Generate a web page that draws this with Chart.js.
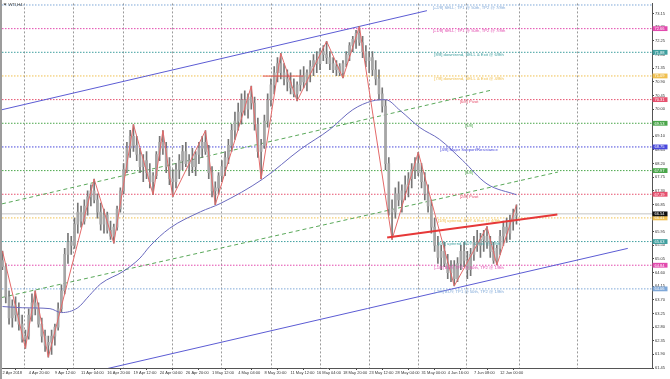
<!DOCTYPE html>
<html><head><meta charset="utf-8">
<script src="https://cdn.jsdelivr.net/npm/chart.js@4.4.1/dist/chart.umd.min.js"></script>
<style>
html,body{margin:0;padding:0;background:#fff;overflow:hidden;}
#wrap{position:absolute;left:0;top:0;width:668px;height:379px;border-left:2px solid #9c9c9c;}
canvas{display:block;}
</style></head><body>
<div id="wrap"><canvas id="c" width="668" height="379"></canvas></div>
<script>
// ---- data (H4 bars, one entry per two H4 bars) ----
const opens  = [65.0,64.8,63.8,63.1,63.5,63.2,62.9,62.4,62.5,63.2,63.6,63.4,62.9,62.5,62.2,62.3,62.5,62.8,63.4,64.0,65.2,65.6,65.5,66.2,66.6,66.3,66.8,67.1,67.3,67.0,66.6,66.2,66.5,66.0,65.8,66.1,66.7,67.3,68.0,68.7,69.1,68.8,68.5,68.1,68.3,67.9,67.6,67.8,68.5,68.9,68.7,68.1,67.7,67.6,68.0,68.3,68.6,68.2,68.3,68.1,68.5,68.7,68.9,68.6,67.9,67.3,67.4,67.8,68.1,68.4,68.8,69.3,69.6,69.9,70.3,70.0,70.4,70.2,69.5,68.6,68.8,69.6,70.3,70.8,71.2,71.5,71.2,71.0,70.9,70.7,70.5,70.8,71.1,70.9,71.2,71.4,71.6,71.5,71.9,71.8,71.7,71.5,71.3,71.4,71.2,71.5,71.8,72.1,72.3,72.5,72.2,71.9,71.6,71.7,71.3,71.0,70.5,70.1,68.2,66.7,66.6,67.2,67.0,67.3,67.5,67.7,68.0,68.2,67.9,67.6,67.2,66.8,66.1,65.5,65.1,65.3,64.9,64.6,64.8,64.4,64.9,65.3,65.0,64.7,65.2,65.6,65.5,65.7,65.8,65.6,65.3,65.0,65.4,65.8,66.1,65.9,66.3,66.5];
const highs  = [65.31,64.9,64.0,63.7,63.8,63.6,63.2,62.7,63.4,63.9,64.00,63.6,63.1,62.7,62.5,62.7,62.9,63.6,64.2,65.4,65.9,65.8,66.4,66.9,66.8,67.0,67.3,67.5,67.69,67.2,66.9,66.7,66.6,66.3,66.2,66.8,67.4,68.2,68.9,69.3,69.49,69.1,68.7,68.5,68.6,68.2,67.9,68.6,69.1,69.29,68.9,68.4,68.0,68.2,68.5,68.8,68.9,68.5,68.7,68.6,68.9,69.1,69.29,68.8,68.1,67.6,67.9,68.3,68.6,69.0,69.5,69.9,70.2,70.5,70.6,70.5,70.76,70.4,69.7,69.0,69.8,70.5,71.0,71.4,71.7,71.84,71.5,71.3,71.2,71.0,70.9,71.3,71.4,71.3,71.6,71.8,71.9,72.0,72.1,72.24,71.9,71.7,71.6,71.5,71.6,71.9,72.2,72.4,72.6,72.73,72.4,72.1,71.9,71.9,71.6,71.3,70.7,70.3,68.4,67.0,67.4,67.6,67.5,67.8,67.9,68.2,68.4,68.57,68.2,67.9,67.5,67.0,66.4,65.8,65.5,65.6,65.2,65.0,65.0,65.1,65.5,65.6,65.3,65.4,65.8,66.0,65.9,66.0,66.12,65.8,65.6,65.5,66.0,66.3,66.4,66.5,66.7,66.84];
const lows   = [64.7,63.6,62.9,62.8,63.0,62.7,62.3,62.10,62.4,63.0,63.2,62.8,62.3,62.0,61.81,61.9,62.2,62.7,63.3,63.9,64.9,65.2,65.4,65.9,66.1,66.2,66.5,66.8,66.9,66.4,66.0,65.9,65.9,65.7,65.57,66.0,66.6,67.2,67.9,68.4,68.6,68.3,67.9,67.6,67.7,67.4,67.17,67.7,68.3,68.5,67.9,67.5,67.10,67.4,67.7,68.0,68.1,67.8,67.9,67.8,68.2,68.4,68.5,67.7,67.1,66.84,67.2,67.6,67.8,68.2,68.6,69.0,69.3,69.5,69.8,69.7,70.0,69.3,68.4,67.69,68.7,69.4,70.1,70.5,70.9,71.0,70.8,70.6,70.5,70.4,70.27,70.6,70.7,70.6,70.9,71.1,71.2,71.3,71.6,71.5,71.3,71.2,71.1,71.1,71.03,71.4,71.6,71.9,72.0,72.1,71.7,71.4,71.2,71.1,70.8,70.3,69.9,68.0,66.5,65.70,66.4,66.8,66.6,67.0,67.1,67.4,67.7,67.8,67.4,67.0,66.6,65.9,65.3,64.9,64.7,64.8,64.4,64.3,64.16,64.3,64.7,64.8,64.4,64.5,65.0,65.3,65.1,65.3,65.4,65.1,64.9,64.85,65.2,65.5,65.6,65.7,66.0,66.2];
const closes = [64.8,63.8,63.1,63.5,63.2,62.9,62.4,62.5,63.2,63.6,63.4,62.9,62.5,62.2,62.3,62.5,62.8,63.4,64.0,65.2,65.6,65.5,66.2,66.6,66.3,66.8,67.1,67.3,67.0,66.6,66.2,66.5,66.0,65.8,66.1,66.7,67.3,68.0,68.7,69.1,68.8,68.5,68.1,68.3,67.9,67.6,67.8,68.5,68.9,68.7,68.1,67.7,67.6,68.0,68.3,68.6,68.2,68.3,68.1,68.5,68.7,68.9,68.6,67.9,67.3,67.4,67.8,68.1,68.4,68.8,69.3,69.6,69.9,70.3,70.0,70.4,70.2,69.5,68.6,68.8,69.6,70.3,70.8,71.2,71.5,71.2,71.0,70.9,70.7,70.5,70.8,71.1,70.9,71.2,71.4,71.6,71.5,71.9,71.8,71.7,71.5,71.3,71.4,71.2,71.5,71.8,72.1,72.3,72.5,72.2,71.9,71.6,71.7,71.3,71.0,70.5,70.1,68.2,66.7,66.6,67.2,67.0,67.3,67.5,67.7,68.0,68.2,67.9,67.6,67.2,66.8,66.1,65.5,65.1,65.3,64.9,64.6,64.8,64.4,64.9,65.3,65.0,64.7,65.2,65.6,65.5,65.7,65.8,65.6,65.3,65.0,65.4,65.8,66.1,65.9,66.3,66.5,66.54];
const barIndex = opens.map((_, k) => k * 2);   // H4 bar number of each entry

const zigIdx   = [0,14,20,28,56,68,80,92,98,104,124,130,152,158,170,180,198,208,218,238,254,276,296,302,314];
const zigPrice = [65.31,62.10,64.00,61.81,67.69,65.57,69.49,67.17,69.29,67.10,69.29,66.84,70.76,67.69,71.84,70.27,72.24,71.03,72.73,65.70,68.57,64.16,66.12,64.85,66.84];

const maIdx = [0,12,29,36,46,53,60,74,84,90,102,121,133,159,182,200,214,226,234,243,255,267,281,296,314];
const maVal = [63.48,63.44,63.41,63.28,63.44,63.84,64.23,64.65,65.08,65.47,66.06,66.61,66.88,67.69,68.67,69.33,69.98,70.27,70.31,69.95,69.39,69.00,68.31,67.53,67.17];

const levelValues = [73.4375,72.65625,71.875,71.09375,70.3125,69.53125,68.75,67.96875,67.1875,66.40625,65.625,64.84375,64.0625];
const levelNames = ['[+2/8] SELL; TP1 @ 50th, TP2 @ 7/8th','[+1/8] SELL; TP1 @ 50th, TP2 @ 7/8th','[8/8] downtrend, SELL & Exit @ 6/8th','[7/8] downtrend, SELL & Exit @ 4/8th','[6/8] Pivot','[5/8]','[4/8] Major Support/Resistance','[3/8]','[2/8] Pivot','[1/8] uptrend, BUY & Exit @ 4/8th','[0/8] uptrend, BUY & Exit @ 2/8th','[-1/8] BUY; TP1 @ 50th, TP2 @ 1/8th','[-2/8] BUY; TP1 @ 50th, TP2 @ 1/8th'];
const currentPrice = 66.54;

// trend / channel lines: [startBar, startPrice, endBar, endPrice]
const upperChannel = [-0.3, 69.98, 259.3, 73.25];
const lowerChannel = [64, 61.43, 382, 65.40];
const upperGreen   = [-0.3, 66.87, 299, 70.63];
const lowerGreen   = [-0.3, 63.78, 339.3, 67.92];
const redTrend     = [235, 65.76, 339, 66.52];
const redFlat      = [159, 71.09, 184, 71.09];

const xTickBars = [0,16,32,48,64,80,96,112,128,144,160,176,192,208,224,240,256,272,288,304];
const xLabels = ['2 Apr 2018','4 Apr 20:00','9 Apr 12:00','11 Apr 04:00','16 Apr 20:00','19 Apr 12:00','24 Apr 04:00','26 Apr 20:00','1 May 12:00','4 May 04:00','8 May 20:00','11 May 12:00','16 May 04:00','18 May 20:00','23 May 12:00','28 May 04:00','31 May 00:00','4 Jun 16:00','7 Jun 08:00','12 Jun 00:00'];
const weekBars = [28.5,58.5,88.8,118.8,149.3,179.3,209.2,239.2,268.5,298.4,333.8];
const yTicks = [61.45,61.90,62.35,62.80,63.25,63.70,64.15,64.60,65.05,65.50,65.95,66.40,66.85,67.30,67.75,68.20,68.65,69.10,69.55,70.00,70.45,70.90,71.35,71.80,72.25,72.70,73.15];

// ---- styles ----
const X_MIN = -0.3, X_MAX = 396.8, Y_MIN = 61.45, Y_MAX = 73.49;
const FONT = '"Liberation Sans", Arial, sans-serif';
const levelColors = ['#7fa8d8','#e24aae','#3f9f9f','#f0c050','#e6506e','#4aa64a','#4848dc','#4aa64a','#e6506e','#f0c050','#3f9f9f','#e24aae','#7fa8d8'];
const LABEL_BAR = 285;

function seg(a){ return [{x:a[0], y:a[1]}, {x:a[2], y:a[3]}]; }
function lineDs(data, color, width, dash, order){
  return {type:'line', data, borderColor:color, borderWidth:width, borderDash:dash||[], pointRadius:0, fill:false, tension:0, order};
}

const datasets = [];
levelValues.forEach((v,i)=>{
  datasets.push(lineDs([{x:X_MIN,y:v},{x:X_MAX,y:v}], levelColors[i], 1, [1.5,1.5], 60));
});
datasets.push(lineDs([{x:X_MIN,y:currentPrice},{x:X_MAX,y:currentPrice}], '#c4c4c4', 1, [], 59));
datasets.push(lineDs(seg(upperGreen), '#5aa85a', 1, [4,3], 50));
datasets.push(lineDs(seg(lowerGreen), '#5aa85a', 1, [4,3], 50));
datasets.push(lineDs(seg(upperChannel), '#5c5cd4', 1, [], 45));
datasets.push(lineDs(seg(lowerChannel), '#5c5cd4', 1, [], 45));
datasets.push({type:'bar', data: barIndex.map((x,k)=>({x, y:[lows[k], highs[k]]})), backgroundColor:'#767676', barThickness:1, grouped:false, order:31});
datasets.push({type:'bar', data: barIndex.map((x,k)=>({x, y:[opens[k], closes[k]]})), backgroundColor:'#a6a6a6', barThickness:2, minBarLength:1, grouped:false, order:30});
datasets.push({type:'line', data: maIdx.map((x,k)=>({x, y:maVal[k]})), borderColor:'#6a6abf', borderWidth:1, pointRadius:0, fill:false, cubicInterpolationMode:'monotone', order:20});
datasets.push(lineDs(zigIdx.map((x,k)=>({x, y:zigPrice[k]})), '#e46a6a', 1, [], 10));
datasets.push(lineDs(seg(redFlat), '#e05050', 1, [], 9));
datasets.push(lineDs(seg(redTrend), '#e63838', 2, [], 5));

const overlay = {
  id:'overlay',
  afterDatasetsDraw(chart){
    const ctx = chart.ctx, xs = chart.scales.x, ys = chart.scales.y;
    ctx.save();
    ctx.font = '4.2px ' + FONT;
    ctx.textAlign = 'center';
    ctx.textBaseline = 'top';
    levelValues.forEach((v,i)=>{
      ctx.fillStyle = levelColors[i];
      ctx.fillText(levelNames[i], xs.getPixelForValue(LABEL_BAR), ys.getPixelForValue(v) + 0.4);
    });
    ctx.restore();
  },
  afterDraw(chart){
    const ctx = chart.ctx, ys = chart.scales.y, area = chart.chartArea;
    ctx.save();
    ctx.font = '4px ' + FONT;
    ctx.textBaseline = 'middle';
    ctx.textAlign = 'left';
    const box = (v, bg) => {
      const y = ys.getPixelForValue(v);
      ctx.fillStyle = bg;
      ctx.fillRect(area.right + 0.5, y - 2.4, 15, 4.8);
      ctx.fillStyle = '#fff';
      ctx.fillText(v.toFixed(2), area.right + 2.5, y + 0.2);
    };
    levelValues.forEach((v,i)=>{ if (i > 0) box(v, levelColors[i]); });
    box(currentPrice, '#111');
    // title
    ctx.fillStyle = '#333';
    ctx.beginPath(); ctx.moveTo(1.5,3.5); ctx.lineTo(4.5,3.5); ctx.lineTo(3,5.5); ctx.closePath(); ctx.fill();
    ctx.font = '4.2px ' + FONT;
    ctx.fillText('WTI,H4', 6.5, 4.6);
    ctx.restore();
  }
};

new Chart(document.getElementById('c'), {
  type:'bar',
  data:{ datasets },
  options:{
    responsive:false, animation:false, devicePixelRatio:1, normalized:true,
    layout:{ padding:0, autoPadding:false },
    plugins:{ legend:{display:false}, tooltip:{enabled:false} },
    scales:{
      x:{ type:'linear', position:'bottom', min:X_MIN, max:X_MAX, offset:false,
          afterBuildTicks: s => { s.ticks = xTickBars.map(v=>({value:v})); },
          afterFit: s => { s.height = 11; },
          ticks:{ autoSkip:false, maxRotation:0, align:'start', padding:0.5, color:'#333', font:{size:4, family:FONT}, callback:(v,i)=>xLabels[i] },
          grid:{ drawOnChartArea:false, tickLength:2, color:'#444' },
          border:{ color:'#555' } },
      x2:{ type:'linear', position:'bottom', min:X_MIN, max:X_MAX, offset:false,
          afterBuildTicks: s => { s.ticks = weekBars.map(v=>({value:v})); },
          afterFit: s => { s.height = 0; },
          ticks:{ display:false },
          grid:{ drawTicks:false, color:'#9a9a9a', lineWidth:1 },
          border:{ display:false, dash:[2,2] } },
      y:{ position:'right', min:Y_MIN, max:Y_MAX,
          afterBuildTicks: s => { s.ticks = yTicks.map(v=>({value:v})); },
          afterFit: s => { s.width = 18; },
          ticks:{ autoSkip:false, padding:1, color:'#333', font:{size:4, family:FONT}, callback:v=>v.toFixed(2) },
          grid:{ drawOnChartArea:false, tickLength:2, color:'#444' },
          border:{ color:'#555' } }
    }
  },
  plugins:[overlay]
});
</script>
</body></html>
